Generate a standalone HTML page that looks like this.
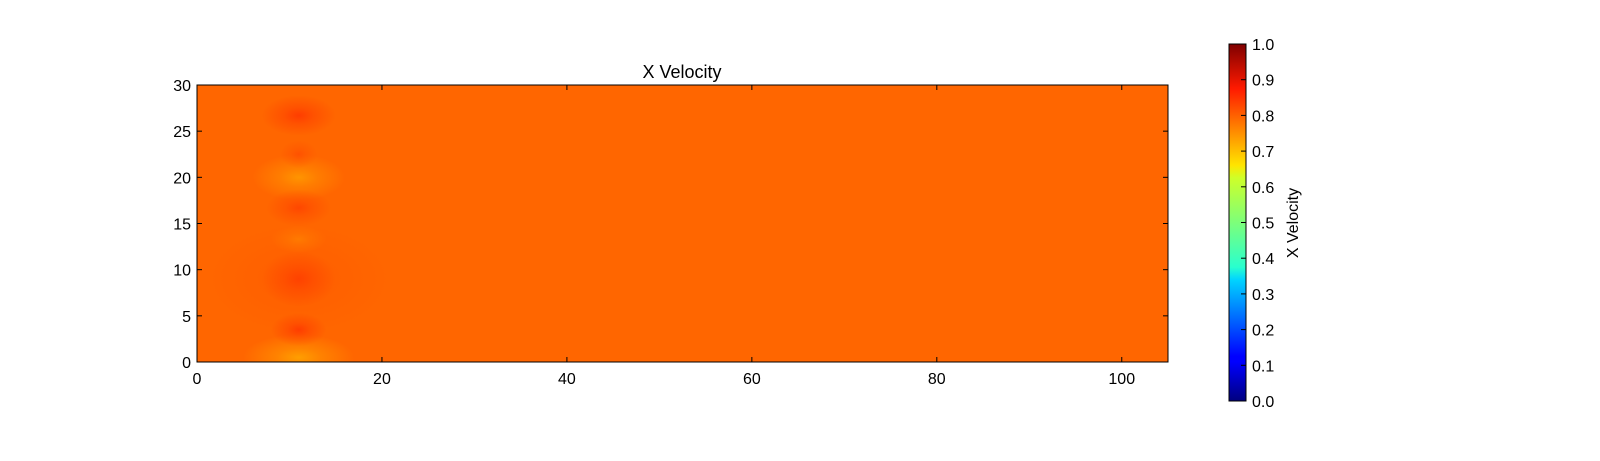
<!DOCTYPE html>
<html><head><meta charset="utf-8"><style>
body{margin:0;background:#fff;}
svg text{font-family:"Liberation Sans",sans-serif;fill:#000;}
</style></head><body>
<svg id="chart" width="1600" height="456" viewBox="0 0 1600 456" xmlns="http://www.w3.org/2000/svg">
<defs id="defs">
<linearGradient id="jet" x1="0" y1="1" x2="0" y2="0">
<stop offset="0" stop-color="#00007f"/><stop offset="0.11" stop-color="#0000ff"/>
<stop offset="0.125" stop-color="#0000ff"/><stop offset="0.34" stop-color="#00d4ff"/>
<stop offset="0.375" stop-color="#29ffce"/><stop offset="0.5" stop-color="#7dff7a"/>
<stop offset="0.625" stop-color="#ceff29"/><stop offset="0.66" stop-color="#ffe500"/>
<stop offset="0.875" stop-color="#ff1a00"/><stop offset="1" stop-color="#7f0000"/>
</linearGradient>
<clipPath id="plotclip"><rect x="197" y="85" width="971" height="277"/></clipPath>
</defs>
<g id="plot"></g>
<text x="682" y="78" font-size="18" text-anchor="middle">X Velocity</text>
<rect x="1229" y="44" width="17" height="357" fill="url(#jet)" stroke="#000" stroke-width="1"/>
<g id="cbticks"></g>
<text transform="translate(1298,223) rotate(-90)" font-size="16" text-anchor="middle">X Velocity</text>
</svg>
<script>
const baseValue = 0.775;
const blobX = [11, 11, 11, 11, 11, 11, 11, 11, 11];
const blobY = [26.7, 22.5, 20, 16.7, 13.3, 9, 9, 3.5, 0.5];
const blobValue = [0.815, 0.795, 0.73, 0.805, 0.755, 0.81, 0.785, 0.815, 0.72];
const blobRx = [4, 2, 5, 3.5, 3, 4, 10, 3, 6];
const blobRy = [2.2, 1.5, 2.5, 2, 1.5, 3, 6, 1.8, 2.5];
const xTicks = [0, 20, 40, 60, 80, 100];
const yTicks = [0, 5, 10, 15, 20, 25, 30];
const cbTicks = [0.0, 0.1, 0.2, 0.3, 0.4, 0.5, 0.6, 0.7, 0.8, 0.9, 1.0];
const xMax = 105, yMax = 30;

const L=197, R=1168, T=85, B=362;
const sx = v => L + v/xMax*(R-L);
const sy = v => B - v/yMax*(B-T);
const cy = v => 401 - v*(401-44);
function jet(v){
  const c = x => Math.round(255*Math.max(0,Math.min(1,x)));
  return `rgb(${c(1.5-Math.abs(4*v-3))},${c(1.5-Math.abs(4*v-2))},${c(1.5-Math.abs(4*v-1))})`;
}
const NS="http://www.w3.org/2000/svg";
const mk=(t,a,p)=>{const e=document.createElementNS(NS,t);for(const k in a)e.setAttribute(k,a[k]);p.appendChild(e);return e;};
const plot=document.getElementById('plot'), defs=document.getElementById('defs');
const bg=mk('rect',{x:L,y:T,width:R-L,height:B-T,fill:jet(baseValue)},plot);


const g=mk('g',{'clip-path':'url(#plotclip)'},plot);
const order=blobX.map((_,i)=>i).sort((a,b)=>blobRx[b]-blobRx[a]);
order.forEach(i=>{
  const gr=mk('radialGradient',{id:'bg'+i},defs);
  mk('stop',{offset:'0','stop-color':jet(blobValue[i]),'stop-opacity':'1'},gr);
  mk('stop',{offset:'0.4','stop-color':jet(blobValue[i]),'stop-opacity':'0.5'},gr);
  mk('stop',{offset:'1','stop-color':jet(blobValue[i]),'stop-opacity':'0'},gr);
  const e=mk('ellipse',{cx:sx(blobX[i]),cy:sy(blobY[i]),rx:blobRx[i]/xMax*(R-L),ry:blobRy[i]/yMax*(B-T),fill:`url(#bg${i})`},g);
  
  
});
const fr=mk('rect',{x:L,y:T,width:R-L,height:B-T,fill:'none',stroke:'#000','stroke-width':1},plot);


xTicks.forEach(v=>{
  const x=sx(v);
  mk('line',{x1:x,x2:x,y1:B,y2:B-5,stroke:'#000'},plot);
  mk('line',{x1:x,x2:x,y1:T,y2:T+5,stroke:'#000'},plot);
  const t=mk('text',{x:x,y:B+22,'font-size':16,'text-anchor':'middle'},plot);t.textContent=v;
  
  
});
yTicks.forEach(v=>{
  const y=sy(v);
  mk('line',{x1:L,x2:L+5,y1:y,y2:y,stroke:'#000'},plot);
  mk('line',{x1:R,x2:R-5,y1:y,y2:y,stroke:'#000'},plot);
  const t=mk('text',{x:L-6,y:y+6,'font-size':16,'text-anchor':'end'},plot);t.textContent=v;
  
  
});
const cbg=document.getElementById('cbticks');
cbTicks.forEach(v=>{
  const y=cy(v);
  mk('line',{x1:1241,x2:1246,y1:y,y2:y,stroke:'#000'},cbg);
  const t=mk('text',{x:1252,y:y+6,'font-size':16},cbg);t.textContent=v.toFixed(1);
  
  
});
</script>
</body></html>
